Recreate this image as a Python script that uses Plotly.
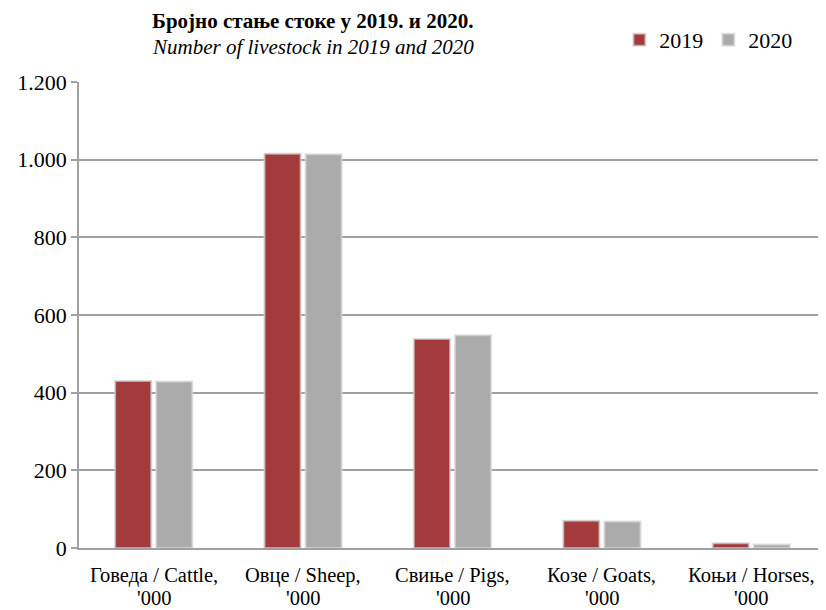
import plotly.graph_objects as go

categories = ["Говеда / Cattle,<br>'000", "Овце / Sheep,<br>'000", "Свиње / Pigs,<br>'000",
              "Козе / Goats,<br>'000", "Коњи / Horses,<br>'000"]
values_2019 = [430, 1015, 538, 70, 12]
values_2020 = [429, 1014, 548, 68, 9]
y_ticks = [0, 200, 400, 600, 800, 1000, 1200]

FONT = "Liberation Serif"

fig = go.Figure()
fig.add_trace(go.Bar(
    x=categories, y=values_2019, name="2019",
    marker=dict(color="#A33B3C", line=dict(color="rgba(205,205,205,0.7)", width=2)),
))
fig.add_trace(go.Bar(
    x=categories, y=values_2020, name="2020",
    marker=dict(color="#ABABAB", line=dict(color="rgba(215,215,215,0.7)", width=2)),
))

fig.update_layout(
    width=818, height=602,
    margin=dict(l=71, r=0, t=74, b=62, autoexpand=False),
    plot_bgcolor="white", paper_bgcolor="white",
    separators=",.",
    barmode="group", bargap=0.45, bargroupgap=0.12,
    font=dict(family=FONT, size=22, color="black"),
    showlegend=True,
    legend=dict(orientation="h", xref="container", yref="container",
                x=0.965, xanchor="right", y=0.947, yanchor="middle",
                font=dict(family=FONT, size=22), traceorder="normal",
                itemwidth=30, bgcolor="rgba(0,0,0,0)"),
    xaxis=dict(showgrid=False, showline=True, linecolor="#A0A0A0", linewidth=1.5,
               ticks="", showticklabels=False, automargin=False),
    yaxis=dict(range=[0, 1200], tickvals=y_ticks, tickformat=",d", automargin=False,
               showgrid=True, gridcolor="#A0A0A0", gridwidth=1.5,
               showline=True, linecolor="#A0A0A0", linewidth=1.5,
               ticks="outside", ticklen=6, tickcolor="#A0A0A0", tickwidth=1.5,
               zeroline=False, tickfont=dict(family=FONT, size=22)),
)

# category labels, two lines each, with tight line spacing
for cat in categories:
    line1, line2 = cat.split("<br>")
    fig.add_annotation(text=line1, x=cat, xref="x", y=0, yref="paper", yshift=-27,
                       xanchor="center", yanchor="middle", showarrow=False, borderpad=0,
                       font=dict(family=FONT, size=20.5))
    fig.add_annotation(text=line2, x=cat, xref="x", y=0, yref="paper", yshift=-50,
                       xanchor="center", yanchor="middle", showarrow=False, borderpad=0,
                       font=dict(family=FONT, size=20.5))

fig.add_annotation(text="<b>Бројно стање стоке у 2019. и 2020.</b>", xref="paper", yref="paper",
                   x=0.095, y=1.131, xanchor="left", yanchor="middle", showarrow=False,
                   font=dict(family=FONT, size=21))
fig.add_annotation(text="<i>Number of livestock in 2019 and 2020</i>", xref="paper", yref="paper",
                   x=0.095, y=1.075, xanchor="left", yanchor="middle", showarrow=False,
                   font=dict(family=FONT, size=21))

fig.write_html("out.html")
